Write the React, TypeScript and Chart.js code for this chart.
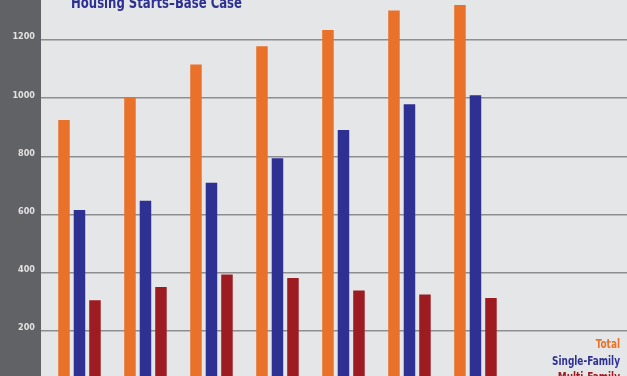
import React, { useEffect, useRef } from "react";
import { Chart, registerables } from "chart.js";

Chart.register(...registerables);

const TITLE = "Housing Starts–Base Case";
const SERIES_NAMES = ["Total", "Single-Family", "Multi-Family"];
const SERIES_COLORS = ["#e9712a", "#2e3192", "#9c1c22"];
const TOTAL = [925, 1003, 1116, 1179, 1235, 1302, 1321];
const SINGLE_FAMILY = [615, 647, 709, 793, 890, 979, 1010];
const MULTI_FAMILY = [304, 350, 393, 381, 338, 324, 312];
const Y_TICKS = [0, 200, 400, 600, 800, 1000, 1200, 1400];

const FONT = "'Liberation Sans Narrow', 'DejaVu Sans Condensed', 'Arial Narrow', sans-serif";

export default function App() {
  const ref = useRef<HTMLCanvasElement | null>(null);

  useEffect(() => {
    document.body.style.overflow = "hidden";
    const canvas = ref.current;
    if (!canvas) return;
    const series = [TOTAL, SINGLE_FAMILY, MULTI_FAMILY];

    const decor = {
      id: "decor",
      beforeDraw(chart: any) {
        const { ctx, chartArea, width, height } = chart;
        ctx.save();
        ctx.fillStyle = "#e5e6e8";
        ctx.fillRect(0, 0, width, height);
        ctx.fillStyle = "#616266";
        ctx.fillRect(0, 0, chartArea.left, height);
        ctx.restore();
      },
      afterDraw(chart: any) {
        const { ctx } = chart;
        ctx.save();
        // title
        ctx.font = `bold 16px ${FONT}`;
        ctx.fillStyle = "#2e3192";
        ctx.textBaseline = "alphabetic";
        ctx.textAlign = "left";
        const tw = ctx.measureText(TITLE).width;
        const ts = Math.min(1.1, 171 / tw);
        ctx.save();
        ctx.translate(71, 38);
        ctx.scale(ts, 1);
        ctx.fillText(TITLE, 0, 0);
        ctx.restore();
        // legend
        ctx.font = `bold 13px ${FONT}`;
        const lw = ctx.measureText(SERIES_NAMES[1]).width;
        const ls = Math.min(1.1, 68 / lw);
        ctx.textBaseline = "middle";
        ctx.textAlign = "right";
        const ys = [375, 391.5, 408];
        chart.data.datasets.forEach((ds: any, i: number) => {
          ctx.save();
          ctx.translate(620, ys[i]);
          ctx.scale(ls, 1);
          ctx.fillStyle = ds.backgroundColor;
          ctx.fillText(ds.label, 0, 0);
          ctx.restore();
        });
        ctx.restore();
      },
    };

    const chart = new Chart(canvas, {
      type: "bar",
      data: {
        datasets: SERIES_NAMES.map((name, i) => ({
          label: name,
          data: series[i].map((v, j) => ({ x: j, y: v })),
          backgroundColor: SERIES_COLORS[i],
          borderWidth: 0,
          categoryPercentage: 0.7045,
          barPercentage: 0.742,
        })),
      },
      options: {
        responsive: false,
        animation: false,
        devicePixelRatio: 1,
        layout: { padding: { top: 12, bottom: 10, left: 0, right: 0 } },
        plugins: {
          legend: { display: false },
          title: { display: false },
          tooltip: { enabled: false },
        },
        scales: {
          x: {
            type: "linear",
            offset: false,
            min: -0.583,
            max: 8.296,
            display: false,
            grid: { display: false },
          },
          y: {
            min: Y_TICKS[0],
            max: Y_TICKS[Y_TICKS.length - 1],
            afterBuildTicks(scale: any) {
              scale.ticks = Y_TICKS.map((v) => ({ value: v }));
            },
            afterFit(scale: any) {
              scale.width = 41;
            },
            border: { display: false },
            grid: {
              color: "#8d8e90",
              lineWidth: 1.5,
              drawTicks: false,
            },
            ticks: {
              color: "#e2e2e2",
              padding: 6,
              labelOffset: -3,
              font: { family: FONT, size: 9, weight: "bold" },
              callback: (v: any) => String(v),
            },
          },
        },
      },
      plugins: [decor],
    } as any);

    return () => chart.destroy();
  }, []);

  return (
    <div style={{ position: "fixed", left: 0, top: -30, width: 627, height: 430 }}>
      <canvas ref={ref} width={627} height={430} style={{ display: "block" }} />
    </div>
  );
}
